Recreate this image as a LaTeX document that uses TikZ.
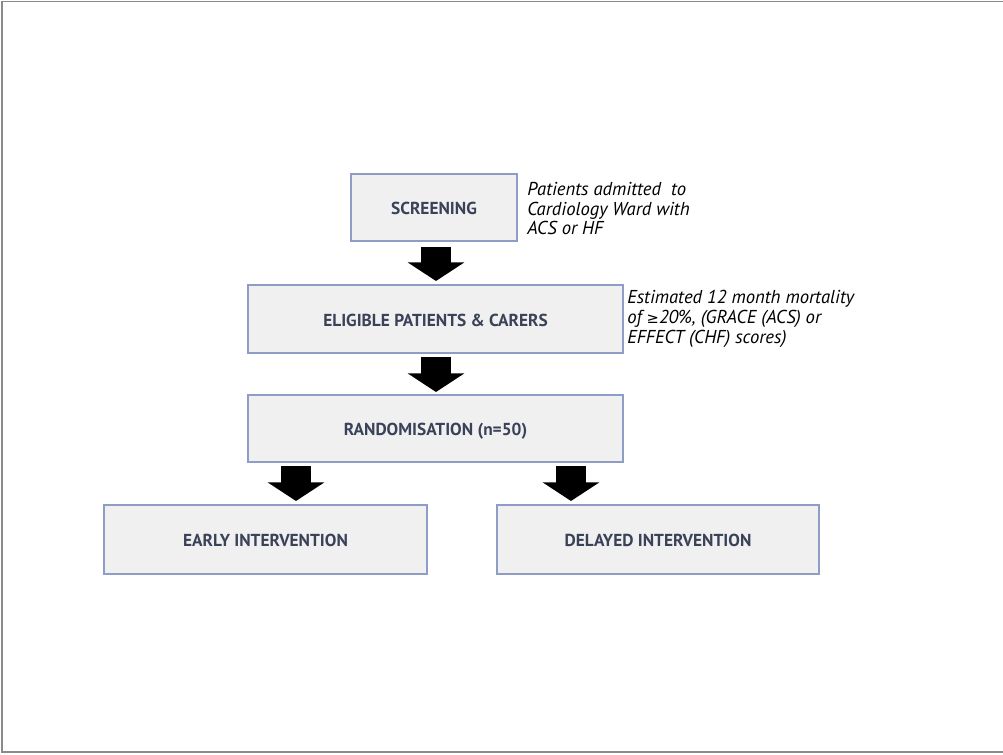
\documentclass[tikz,border=0pt]{standalone}
\usepackage{fontspec}
\setmainfont{PT Sans}
\newfontfamily\symfont{DejaVu Sans}
\usetikzlibrary{arrows.meta,shadows}
\definecolor{boxfill}{HTML}{F0F0F1}
\definecolor{boxline}{HTML}{8E9CC6}
\definecolor{labtext}{HTML}{3A4258}
\definecolor{framec}{HTML}{8A8A8A}
\tikzset{
  stagebox/.style={draw=boxline, line width=1pt, fill=boxfill, inner sep=0pt,
    font=\fontsize{13pt}{15pt}\selectfont\bfseries, text=labtext,
    text height=11pt, text depth=0pt,
    drop shadow={shadow xshift=1pt, shadow yshift=-1pt, opacity=0.15}},
  note/.style={anchor=north west, inner sep=0pt, align=left,
    font=\fontsize{14pt}{14.8pt}\selectfont\itshape, text=black},
  bigarrow/.style={line width=22.5pt, black, -{Triangle[length=14pt,width=42pt]}},
}
\begin{document}
\begin{tikzpicture}[x=0.75pt,y=-0.75pt]
\useasboundingbox (0,0) rectangle (1003,755);
\draw[framec, line width=1.2pt] (1003,1.5) -- (2,1.5) -- (2,752) -- (1003,752);
% boxes
\node[stagebox, minimum width=124.5pt, minimum height=50.25pt] (scr) at (434,207.5) {SCREENING};
\node[stagebox, minimum width=281.25pt, minimum height=51pt] (elig) at (435.5,319) {ELIGIBLE PATIENTS \& CARERS};
\node[stagebox, minimum width=281.25pt, minimum height=50.25pt] (rand) at (435.5,428.5) {RANDOMISATION (n=50)};
\node[stagebox, minimum width=242.25pt, minimum height=51.75pt] (early) at (265.5,539.5) {EARLY INTERVENTION};
\node[stagebox, minimum width=241.5pt, minimum height=51.75pt] (delay) at (658,539.5) {DELAYED INTERVENTION};
% notes
\node[note] (n1) at (527,182) {Patients admitted\ \ to\\Cardiology Ward with\\ACS or HF};
\node[note] (n2) at (627,290) {Estimated 12 month mortality\\of {\symfont\upshape\fontsize{11pt}{12pt}\selectfont ≥}20\%, (GRACE (ACS) or\\EFFECT (CHF) scores)};
% arrows
\coordinate (a1s) at (436,247); \coordinate (a1e) at (436,281);
\coordinate (a2s) at (436,357); \coordinate (a2e) at (436,392);
\coordinate (a3s) at (296,466); \coordinate (a3e) at (296,501);
\coordinate (a4s) at (571,466); \coordinate (a4e) at (571,501);
\draw[bigarrow] (a1s) -- (a1e);
\draw[bigarrow] (a2s) -- (a2e);
\draw[bigarrow] (a3s) -- (a3e);
\draw[bigarrow] (a4s) -- (a4e);
\end{tikzpicture}
\end{document}
